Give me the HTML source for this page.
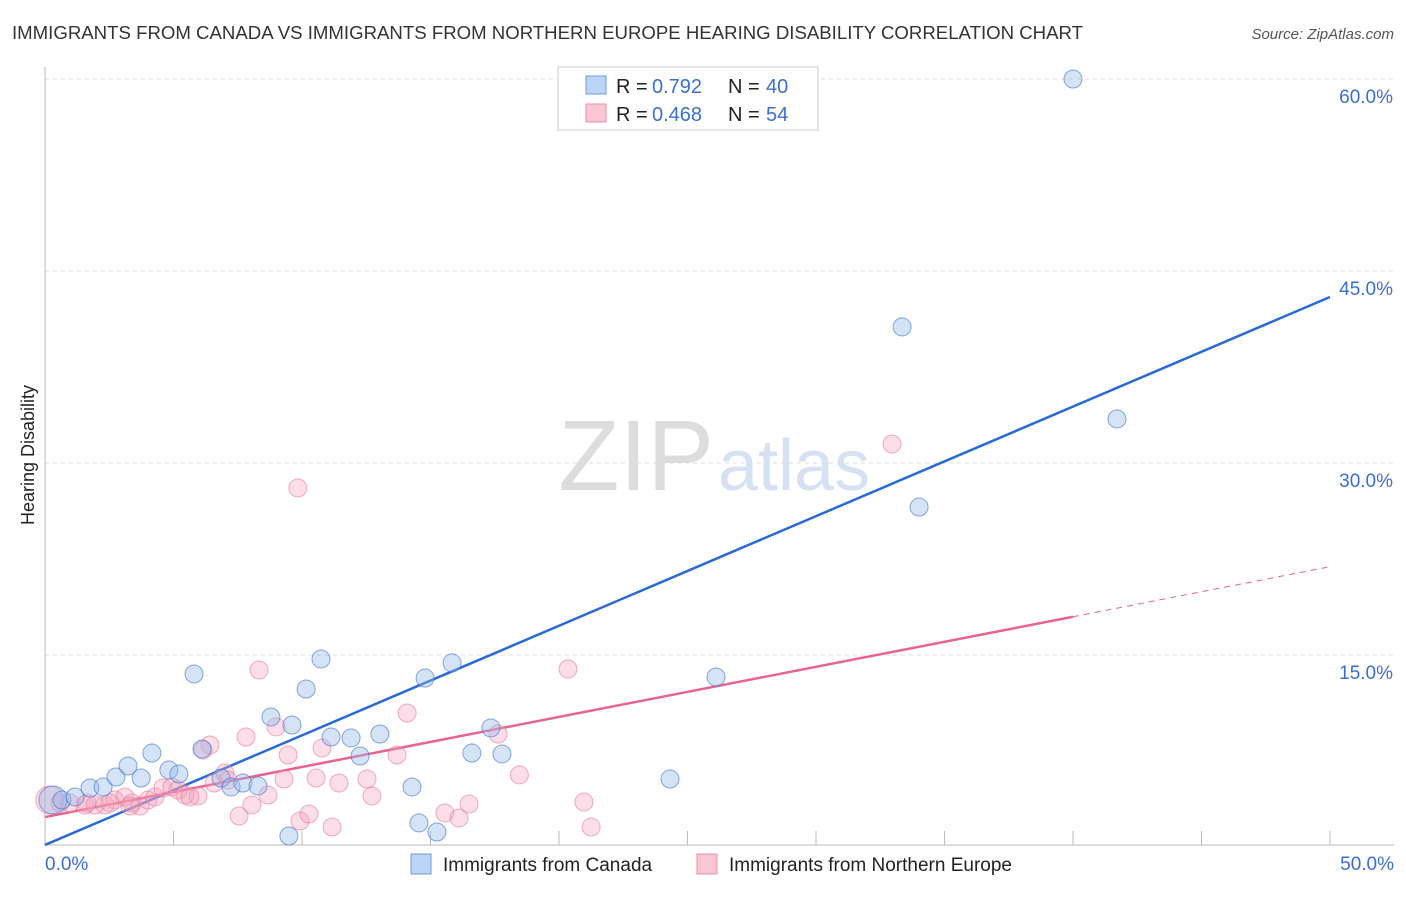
<!DOCTYPE html>
<html><head><meta charset="utf-8"><style>
body{margin:0;background:#fff;font-family:"Liberation Sans",sans-serif;}
svg text{font-family:"Liberation Sans",sans-serif;}
</style></head><body>
<svg id="chart" width="1406" height="892" viewBox="0 0 1406 892">
<text x="12" y="39" font-size="18" fill="#333" textLength="1071" lengthAdjust="spacingAndGlyphs">IMMIGRANTS FROM CANADA VS IMMIGRANTS FROM NORTHERN EUROPE HEARING DISABILITY CORRELATION CHART</text>
<text x="1394" y="39" font-size="15" fill="#555" font-style="italic" text-anchor="end">Source: ZipAtlas.com</text>
<text x="34" y="455" font-size="18" fill="#222" transform="rotate(-90 34 455)" text-anchor="middle">Hearing Disability</text>
<text x="714" y="490" font-size="100" fill="#ddd" text-anchor="end" font-family="Liberation Serif">ZIP</text>
<text x="718" y="490" font-size="72" fill="#d6e2f4">atlas</text>
<g id="grid"></g><g id="axes"></g><g id="lines"></g><g id="pts"></g>
<g>
<rect x="558" y="67" width="260" height="63" fill="#fff" stroke="#ccc"/>
<rect x="586" y="76" width="20" height="18" fill="#bcd4f5" stroke="#6b9be0"/>
<rect x="586" y="104" width="20" height="18" fill="#f9c6d4" stroke="#ee8fab"/>
<text x="616" y="93" font-size="20" fill="#222">R =</text>
<text x="652" y="93" font-size="20" fill="#3b6fd1">0.792</text>
<text x="728" y="93" font-size="20" fill="#222">N =</text>
<text x="766" y="93" font-size="20" fill="#3b6fd1">40</text>
<text x="616" y="121" font-size="20" fill="#222">R =</text>
<text x="652" y="121" font-size="20" fill="#3b6fd1">0.468</text>
<text x="728" y="121" font-size="20" fill="#222">N =</text>
<text x="766" y="121" font-size="20" fill="#3b6fd1">54</text>
</g>
<g>
<rect x="411" y="854" width="20" height="20" fill="#bcd4f5" stroke="#6b9be0"/>
<text x="443" y="871" font-size="19" fill="#222">Immigrants from Canada</text>
<rect x="697" y="854" width="20" height="20" fill="#f9c6d4" stroke="#ee8fab"/>
<text x="729" y="871" font-size="19" fill="#222">Immigrants from Northern Europe</text>
</g>
</svg>
<script>
const yTicks=[15,30,45,60];
const yTickLabels=["15.0%","30.0%","45.0%","60.0%"];
const xEnds=["0.0%","50.0%"];
const canadaX=[0.31,0.66,1.17,1.75,2.26,2.76,3.23,3.74,4.16,4.82,5.21,5.80,6.11,6.85,7.24,7.70,8.29,8.79,9.49,9.61,10.16,10.74,11.13,11.91,12.26,13.03,14.28,14.55,14.79,15.25,15.84,16.61,17.35,17.78,24.32,26.11,33.35,34.01,40.0,41.71];
const canadaY=[3.67,3.67,3.91,4.61,4.69,5.47,6.33,5.39,7.34,6.02,5.70,13.52,7.66,5.39,4.69,5.00,4.77,10.16,0.86,9.53,12.34,14.69,8.59,8.52,7.11,8.83,4.69,1.88,13.20,1.17,14.38,7.34,9.30,7.27,5.31,13.28,40.63,26.56,60.0,33.44];
const neX=[0.19,0.58,0.97,1.56,1.95,2.33,2.72,3.11,3.39,3.70,4.01,4.28,4.59,4.94,5.45,5.95,6.42,6.15,6.58,7.00,7.55,7.82,8.05,8.33,8.68,8.99,9.30,9.46,9.84,9.92,10.27,10.55,10.78,11.17,11.44,12.53,12.72,13.70,14.09,15.56,16.11,16.50,17.63,18.46,20.35,20.97,21.25,32.96,1.63,2.53,3.31,5.18,5.64,7.12];
const neY=[3.67,3.44,3.44,3.28,3.28,3.28,3.67,3.91,3.44,3.20,3.67,3.91,4.61,4.69,4.06,3.98,7.97,7.58,5.00,5.78,2.42,8.59,3.28,13.83,4.06,9.38,5.31,7.19,28.05,2.03,2.58,5.39,7.73,1.56,5.00,5.31,3.98,7.19,10.47,2.66,2.27,3.36,8.83,5.63,13.91,3.52,1.56,31.48,3.44,3.44,3.20,4.45,3.91,5.23];
const canadaFit=[0.16,42.97];
const neFit=[2.34,21.9];
const neSolidEnd=40;
const X=v=>45+v/50*1285, Y=v=>847-v/15*192;
const NS='http://www.w3.org/2000/svg';
function mk(t,a,p){const e=document.createElementNS(NS,t);for(const k in a)e.setAttribute(k,a[k]);document.getElementById(p).appendChild(e);return e;}
yTicks.forEach((t,i)=>{
 const g=mk('line',{x1:45,x2:1394,y1:Y(t),y2:Y(t),stroke:'#ddd','stroke-dasharray':'4 4'},'grid');
 
 
 const l=mk('text',{x:1393,y:Y(t)+24,'font-size':19,fill:'#3b6fd1','text-anchor':'end'},'axes');
 l.textContent=yTickLabels[i];
 
 
});
const ax=mk('path',{d:'M45 67 V845 H1394',stroke:'#bbb',fill:'none'},'axes');


for(let i=1;i<=10;i++){const t=mk('line',{x1:X(i*5),x2:X(i*5),y1:831,y2:845,stroke:'#bbb'},'axes');
 
 }
[0,50].forEach((v,i)=>{const l=mk('text',{x:i?1394:45,y:870,'font-size':19,fill:'#3b6fd1','text-anchor':i?'end':'start'},'axes');
 l.textContent=xEnds[i];
 
 });
neX.forEach((x,i)=>{const c=mk('circle',{cx:X(x),cy:Y(neY[i]),r:i==0?14:9,fill:'rgba(244,160,185,0.35)',stroke:'rgba(232,120,155,0.6)'},'pts');
 
 });
canadaX.forEach((x,i)=>{const c=mk('circle',{cx:X(x),cy:Y(canadaY[i]),r:i==0?14:9,fill:'rgba(150,185,235,0.4)',stroke:'rgba(70,120,210,0.65)'},'pts');
 
 });
const b=mk('line',{x1:X(0),y1:Y(canadaFit[0]),x2:X(50),y2:Y(canadaFit[1]),stroke:'#2a6ad6','stroke-width':2.5},'lines');


const nf=x=>neFit[0]+(neFit[1]-neFit[0])*x/50;
const p=mk('line',{x1:X(0),y1:Y(nf(0)),x2:X(neSolidEnd),y2:Y(nf(neSolidEnd)),stroke:'#e8648f','stroke-width':2.5},'lines');


const pd=mk('line',{x1:X(neSolidEnd),y1:Y(nf(neSolidEnd)),x2:X(50),y2:Y(nf(50)),stroke:'#e8648f','stroke-width':1,'stroke-dasharray':'6 5'},'lines');


</script>
</body></html>
